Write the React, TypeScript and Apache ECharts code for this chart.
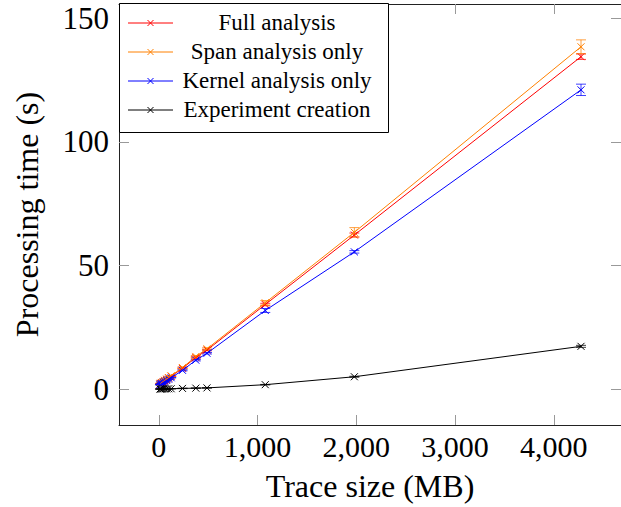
import React, { useEffect, useRef } from 'react';
import * as echarts from 'echarts';

// Trace sizes (MB)
const sizes = [12, 20, 30, 45, 60, 80, 100, 125, 240, 375, 488, 1078, 1980, 4275];
// Processing times (s)
const fullTime = [2.0, 2.3, 2.6, 3.0, 3.4, 3.9, 4.5, 5.2, 8.4, 12.8, 15.8, 34.2, 62.3, 134.4];
const fullErr = [0.1, 0.1, 0.1, 0.1, 0.1, 0.1, 0.1, 0.1, 0.2, 0.3, 0.3, 0.5, 0.8, 1.1];
const spanTime = [2.1, 2.4, 2.7, 3.1, 3.6, 4.1, 4.7, 5.4, 8.7, 13.2, 16.3, 34.9, 63.4, 138.4];
const spanErr = [0.1, 0.1, 0.1, 0.1, 0.1, 0.1, 0.1, 0.1, 0.3, 0.4, 0.4, 0.9, 1.9, 2.8];
const kernelTime = [1.8, 2.1, 2.3, 2.7, 3.1, 3.5, 4.0, 4.6, 7.6, 11.7, 14.5, 31.8, 55.5, 121.0];
const kernelErr = [0.1, 0.1, 0.1, 0.1, 0.1, 0.1, 0.1, 0.1, 0.2, 0.3, 0.3, 0.8, 0.5, 2.3];
const expTime = [0.05, 0.05, 0.05, 0.1, 0.1, 0.1, 0.15, 0.15, 0.3, 0.4, 0.5, 1.8, 5.0, 17.3];
const expErr = [0.05, 0.05, 0.05, 0.05, 0.05, 0.05, 0.05, 0.05, 0.1, 0.1, 0.1, 0.1, 0.2, 0.4];

const seriesNames = ['Full analysis', 'Span analysis only', 'Kernel analysis only', 'Experiment creation'];
const xTicks = [0, 1000, 2000, 3000, 4000];
const yTicks = [0, 50, 100, 150];

const FONT = '"Liberation Serif", "Times New Roman", serif';

export default function App() {
  const ref = useRef<HTMLDivElement>(null);
  useEffect(() => {
    const chart = echarts.init(ref.current!, null, { renderer: 'svg' });
    const defs = [
      { name: seriesNames[0], color: '#ff0000', t: fullTime, e: fullErr },
      { name: seriesNames[1], color: '#ff8000', t: spanTime, e: spanErr },
      { name: seriesNames[2], color: '#0000ff', t: kernelTime, e: kernelErr },
      { name: seriesNames[3], color: '#000000', t: expTime, e: expErr },
    ];
    const series: any[] = [];
    defs.forEach((d) => {
      series.push({
        type: 'line',
        name: d.name,
        data: sizes.map((s, i) => [s, d.t[i]]),
        symbol: 'none',
        lineStyle: { color: d.color, width: 1 },
        silent: true,
      });
      series.push({
        type: 'custom',
        name: d.name + ' marks',
        data: sizes.map((s, i) => [s, d.t[i], d.e[i]]),
        encode: { x: 0, y: 1 },
        silent: true,
        clip: false,
        renderItem: (params: any, api: any) => {
          const x = api.value(0);
          const y = api.value(1);
          const e = api.value(2);
          const c = api.coord([x, y]);
          const ms = 3.5;
          const children: any[] = [
            { type: 'line', shape: { x1: c[0] - ms, y1: c[1] - ms, x2: c[0] + ms, y2: c[1] + ms }, style: { stroke: d.color, lineWidth: 1 } },
            { type: 'line', shape: { x1: c[0] - ms, y1: c[1] + ms, x2: c[0] + ms, y2: c[1] - ms }, style: { stroke: d.color, lineWidth: 1 } },
          ];
          if (e > 0) {
            const t = api.coord([x, y + e]);
            const b = api.coord([x, y - e]);
            const cw = 5;
            const st = { stroke: d.color, lineWidth: 1, opacity: 0.75 };
            children.push({ type: 'line', shape: { x1: c[0], y1: t[1], x2: c[0], y2: b[1] }, style: st });
            children.push({ type: 'line', shape: { x1: c[0] - cw, y1: t[1], x2: c[0] + cw, y2: t[1] }, style: st });
            children.push({ type: 'line', shape: { x1: c[0] - cw, y1: b[1], x2: c[0] + cw, y2: b[1] }, style: st });
          }
          return { type: 'group', children };
        },
      });
    });

    const xMin = -403, xMax = 4680, yMin = -14.5, yMax = 155.7;
    const axisLineStyle = { color: '#222', width: 1 };
    const tickStyle = { color: '#999', width: 1 };

    // Legend drawn as graphic
    const legendEls: any[] = [
      { type: 'rect', shape: { x: 119.5, y: 3.5, width: 269, height: 129 }, style: { fill: '#fff', stroke: '#000', lineWidth: 1 }, z: 100 },
    ];
    defs.forEach((d, i) => {
      const y = 23 + i * 29;
      legendEls.push({ type: 'line', shape: { x1: 128, y1: y, x2: 173, y2: y }, style: { stroke: d.color, lineWidth: 1 }, z: 101 });
      legendEls.push({ type: 'line', shape: { x1: 147.5, y1: y - 3, x2: 153.5, y2: y + 3 }, style: { stroke: d.color, lineWidth: 1 }, z: 101 });
      legendEls.push({ type: 'line', shape: { x1: 147.5, y1: y + 3, x2: 153.5, y2: y - 3 }, style: { stroke: d.color, lineWidth: 1 }, z: 101 });
      legendEls.push({
        type: 'text', x: 277, y: y - 1, z: 101,
        style: { text: d.name, fontFamily: FONT, fontSize: 23, fill: '#000', textAlign: 'center', textVerticalAlign: 'middle' },
      });
    });

    chart.setOption({
      animation: false,
      backgroundColor: '#fff',
      grid: { left: 119, top: 4, width: 508, height: 423, containLabel: false },
      xAxis: [
        {
          type: 'value', position: 'bottom', min: xMin, max: xMax,
          axisLine: { show: true, onZero: false, lineStyle: axisLineStyle },
          axisTick: { show: true, inside: true, length: 10, customValues: xTicks, lineStyle: tickStyle },
          axisLabel: {
            customValues: xTicks, fontFamily: FONT, fontSize: 30, color: '#000', margin: 6,
            formatter: (v: number) => v.toLocaleString('en-US'),
          },
          splitLine: { show: false },
          name: 'Trace size (MB)', nameLocation: 'middle', nameGap: 45,
          nameTextStyle: { fontFamily: FONT, fontSize: 32, color: '#000' },
        },
        {
          type: 'value', position: 'top', min: xMin, max: xMax,
          axisLine: { show: true, onZero: false, lineStyle: axisLineStyle },
          axisTick: { show: true, inside: true, length: 10, customValues: xTicks, lineStyle: tickStyle },
          axisLabel: { show: false },
          splitLine: { show: false },
        },
      ],
      yAxis: [
        {
          type: 'value', position: 'left', min: yMin, max: yMax,
          axisLine: { show: true, onZero: false, lineStyle: axisLineStyle },
          axisTick: { show: true, inside: true, length: 10, customValues: yTicks, lineStyle: tickStyle },
          axisLabel: { customValues: yTicks, fontFamily: FONT, fontSize: 31, color: '#000', margin: 10 },
          splitLine: { show: false },
          name: 'Processing time (s)', nameLocation: 'middle', nameGap: 76, nameRotate: 90,
          nameTextStyle: { fontFamily: FONT, fontSize: 32, color: '#000' },
        },
        {
          type: 'value', position: 'right', min: yMin, max: yMax,
          axisLine: { show: true, onZero: false, lineStyle: axisLineStyle },
          axisTick: { show: true, inside: true, length: 10, customValues: yTicks, lineStyle: tickStyle },
          axisLabel: { show: false },
          splitLine: { show: false },
        },
      ],
      series,
      graphic: legendEls,
    });
    return () => chart.dispose();
  }, []);
  return <div ref={ref} style={{ position: 'absolute', left: 0, top: 0, width: 621, height: 507 }} />;
}
